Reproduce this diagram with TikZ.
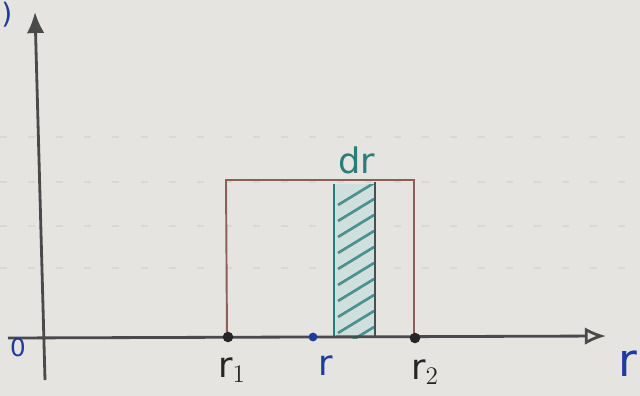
\documentclass[tikz,border=0pt]{standalone}
\usepackage{fontspec}
\setmainfont{DejaVu Sans}
\usetikzlibrary{patterns,arrows.meta}
\definecolor{paper}{HTML}{E6E4E0}
\definecolor{axis}{HTML}{4A4A4A}
\definecolor{boxc}{HTML}{8C5E58}
\definecolor{tealc}{HTML}{2B7C7A}
\definecolor{tealfill}{HTML}{CFDFDD}
\definecolor{bluec}{HTML}{1F3C9A}
\definecolor{gridc}{HTML}{DAD8D3}
\tikzset{
  axisline/.style={draw=axis, line width=1.6pt},
  boxline/.style={draw=boxc, line width=1.1pt},
  lbl/.style={font=\fontsize{20}{22}\selectfont, inner sep=0pt},
  dotb/.style={circle, fill=black!85, inner sep=0pt, minimum size=6pt},
  paperline/.style={draw=gridc, line width=0.6pt, dash pattern=on 4pt off 12pt},
}
\begin{document}
\begin{tikzpicture}[x=0.02cm, y=-0.02cm]
\useasboundingbox (0,0) rectangle (640,396);
\fill[paper] (0,0) rectangle (640,396);
% faint paper lines
\draw[paperline] (0,137) -- (640,137);
\draw[paperline] (0,182) -- (640,182);
\draw[paperline] (0,226) -- (640,226);
\draw[paperline] (0,268) -- (640,268);
% nodes / coordinates
\coordinate (ybot) at (45,380);
\coordinate (ytop) at (35,12);
\coordinate (xleft) at (8,338);
\coordinate (xright) at (606,336);
% hatched strip
\fill[tealfill] (334,184) rectangle (375,338);
\begin{scope}
\clip (334,184) rectangle (375,338);
\foreach \k in {0,...,9} {
  \draw[tealc!85, line width=1.5pt] (338,{205+16*\k}) -- (374,{183+16*\k});
}
\end{scope}
% rectangle
\draw[boxline] (227,338) -- (226,180) -- (414,180) -- (414,338);
% strip edges
\draw[tealc, line width=1.4pt] (334,338) -- (334,184);
\draw[axis!90!tealc, line width=1.4pt] (375,338) -- (375,182);
% axes
\draw[axisline, -{Latex[length=12pt,width=10pt]}] (ybot) -- (ytop);
\draw[axisline, -{Latex[length=12pt,width=10pt,open]}] (xleft) -- (xright);
% points
\node[dotb] (r1) at (228,337) {};
\node[circle, fill=bluec, inner sep=0pt, minimum size=5pt] (rp) at (313,337) {};
\node[dotb] (r2) at (415,338) {};
% labels
\node[lbl, text=bluec, font=\fontsize{14}{16}\selectfont] (o) at (18,348) {0};
\node[lbl, text=black!85] (lr1) at (232,370) {r$_{\scriptstyle 1}$};
\node[lbl, text=bluec] (lr) at (326,366) {r};
\node[lbl, text=black!85] (lr2) at (425,372) {r$_{\scriptstyle 2}$};
\node[lbl, text=bluec, font=\fontsize{26}{28}\selectfont] (raxis) at (628,364) {r};
\node[lbl, text=tealc] (dr) at (357,160) {dr};
\node[lbl, text=bluec, anchor=north west, font=\fontsize{16}{18}\selectfont] (paren) at (1,2) {)};
\end{tikzpicture}
\end{document}
